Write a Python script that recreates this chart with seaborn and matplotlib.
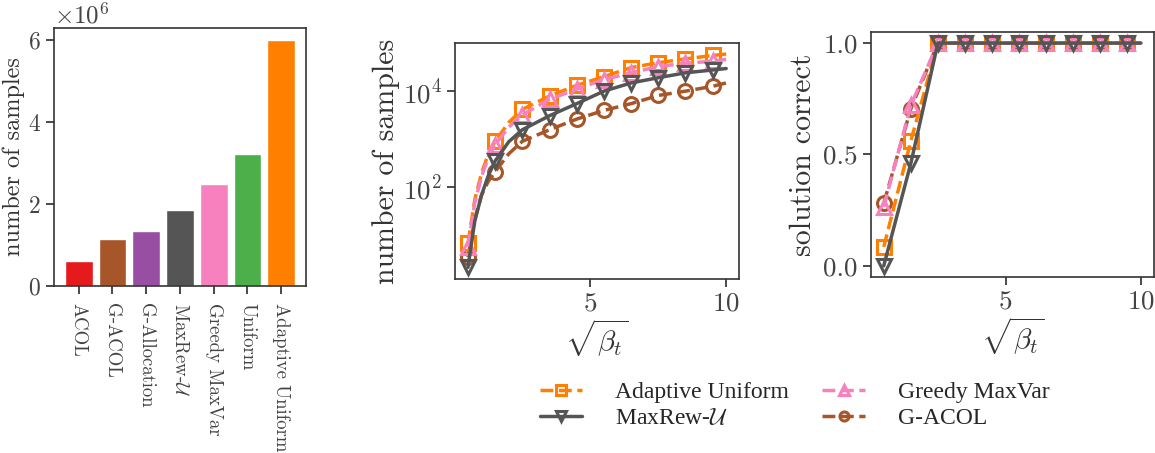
import numpy as np
import pandas as pd
import matplotlib
matplotlib.use("Agg")
import matplotlib.pyplot as plt
import seaborn as sns

# datos del grafico de barras
methods = ["ACOL", "G-ACOL", "G-Allocation", r"MaxRew-$\mathcal{U}$",
           "Greedy MaxVar", "Uniform", "Adaptive Uniform"]
total_samples = [0.6e6, 1.15e6, 1.35e6, 1.85e6, 2.5e6, 3.22e6, 6.0e6]
bar_colors = ["#e41a1c", "#a65628", "#984ea3", "#555555",
              "#f781bf", "#4daf4a", "#ff7f00"]

# datos del panel central (numero de muestras, escala log)
beta_mid = [0.5, 0.75, 1.0, 1.25, 1.5, 2.0, 2.5, 3.5, 4.5, 5.5, 6.5, 7.5, 8.5, 9.5, 10.0]
samples_adaptive = [7, 56, 200, 500, 910, 2240, 4170, 7940, 13200, 20000, 30900, 38900, 46800, 55000, 59000]
samples_greedy = [5.9, 48, 170, 420, 780, 1780, 3240, 6760, 11000, 17400, 24000, 32400, 38000, 41700, 45700]
samples_maxrew = [2.2, 20, 70, 178, 355, 890, 1580, 3090, 5500, 10000, 14800, 19000, 24000, 27500, 29500]
samples_gacol = [3.6, 22, 70, 135, 214, 500, 910, 1580, 2630, 3980, 5500, 8130, 10000, 12600, 14800]
mark_mid = [0, 4] + list(range(6, 14))

# datos del panel derecho (solucion correcta)
beta_right = [0.5, 1.5, 2.5, 3.5, 4.5, 5.5, 6.5, 7.5, 8.5, 9.5, 10.0]
correct_adaptive = [0.085, 0.56, 1, 1, 1, 1, 1, 1, 1, 1, 1]
correct_greedy = [0.265, 0.72, 1, 1, 1, 1, 1, 1, 1, 1, 1]
correct_maxrew = [0.0, 0.46, 1, 1, 1, 1, 1, 1, 1, 1, 1]
correct_gacol = [0.28, 0.705, 1, 1, 1, 1, 1, 1, 1, 1, 1]
mark_right = list(range(10))

sns.set_theme(style="ticks")
plt.rcParams["font.family"] = "serif"
plt.rcParams["font.serif"] = ["cmr10"]
plt.rcParams["mathtext.fontset"] = "cm"
plt.rcParams["axes.formatter.use_mathtext"] = True
plt.rcParams["axes.unicode_minus"] = False
plt.rcParams["axes.edgecolor"] = "#333333"
plt.rcParams["axes.linewidth"] = 1.2
plt.rcParams["xtick.color"] = "#333333"
plt.rcParams["ytick.color"] = "#333333"
plt.rcParams["xtick.labelcolor"] = "#444444"
plt.rcParams["ytick.labelcolor"] = "#444444"
plt.rcParams["axes.labelcolor"] = "#333333"

fig = plt.figure(figsize=(11.55, 4.53), dpi=100)
ax1 = fig.add_axes([0.0468, 0.3687, 0.218, 0.5695])
ax2 = fig.add_axes([0.394, 0.3841, 0.2459, 0.521])
ax3 = fig.add_axes([0.754, 0.3885, 0.245, 0.541])

# grafico de barras
sns.barplot(x=methods, y=total_samples, hue=methods, palette=bar_colors,
            legend=False, saturation=1, width=0.82, ax=ax1)
ax1.set_xlim(-0.73, 6.73)
ax1.set_yticks([0, 2e6, 4e6, 6e6])
ax1.set_ylabel("number of samples", fontsize=17.5, labelpad=2)
ax1.tick_params(axis="x", labelrotation=-90, labelsize=13.5, pad=6)
ax1.tick_params(axis="y", labelsize=17)
ax1.yaxis.get_offset_text().set_fontsize(18)

series = [
    ("G-ACOL", "#a65628", "o", "--"),
    ("Adaptive Uniform", "#ff7f00", "s", "--"),
    ("Greedy MaxVar", "#f781bf", "^", "--"),
    (r"MaxRew-$\mathcal{U}$", "#555555", "v", "-"),
]
mid_vals = {"G-ACOL": samples_gacol, "Adaptive Uniform": samples_adaptive,
            "Greedy MaxVar": samples_greedy, r"MaxRew-$\mathcal{U}$": samples_maxrew}
right_vals = {"G-ACOL": correct_gacol, "Adaptive Uniform": correct_adaptive,
              "Greedy MaxVar": correct_greedy, r"MaxRew-$\mathcal{U}$": correct_maxrew}

handles = {}
for name, col, mk, ls in series:
    kw = dict(color=col, marker=mk, linestyle=ls, linewidth=2.5, markersize=10,
              markeredgewidth=2.2, markeredgecolor=col, markerfacecolor="none")
    sns.lineplot(x=beta_mid, y=mid_vals[name], ax=ax2, markevery=mark_mid, **kw)
    sns.lineplot(x=beta_right, y=right_vals[name], ax=ax3, markevery=mark_right, **kw)
    handles[name] = ax2.lines[-1]

ax2.set_yscale("log")
ax2.set_ylim(10 ** 0.1, 10 ** 5.0)
ax2.set_yticks([1e2, 1e4])
ax2.yaxis.set_minor_locator(matplotlib.ticker.NullLocator())
ax2.set_xticks([5, 10])
ax2.set_ylabel("number of samples", fontsize=21.5, labelpad=2)
ax2.set_xlabel(r"$\sqrt{\beta_t}$", fontsize=21, labelpad=1)
ax2.tick_params(labelsize=19.5)

ax3.set_ylim(-0.05, 1.05)
ax3.set_yticks([0, 0.5, 1.0])
ax3.set_yticklabels(["0.0", "0.5", "1.0"])
ax3.set_xticks([5, 10])
ax3.set_ylabel("solution correct", fontsize=21.5)
ax3.set_xlabel(r"$\sqrt{\beta_t}$", fontsize=21, labelpad=1)
ax3.tick_params(labelsize=19.5)

for ax in (ax1, ax2, ax3):
    for s in ax.spines.values():
        s.set_visible(True)

order = ["Adaptive Uniform", r"MaxRew-$\mathcal{U}$", "Greedy MaxVar", "G-ACOL"]
fig.legend([handles[n] for n in order], order, ncol=2, loc="center",
           bbox_to_anchor=(0.688, 0.105), frameon=False,
           prop={"family": "Liberation Serif", "size": 17},
           handlelength=1.8, handletextpad=1.4, columnspacing=1.4,
           labelspacing=0.2, markerscale=0.65)

fig.savefig("out.png", dpi=100)
